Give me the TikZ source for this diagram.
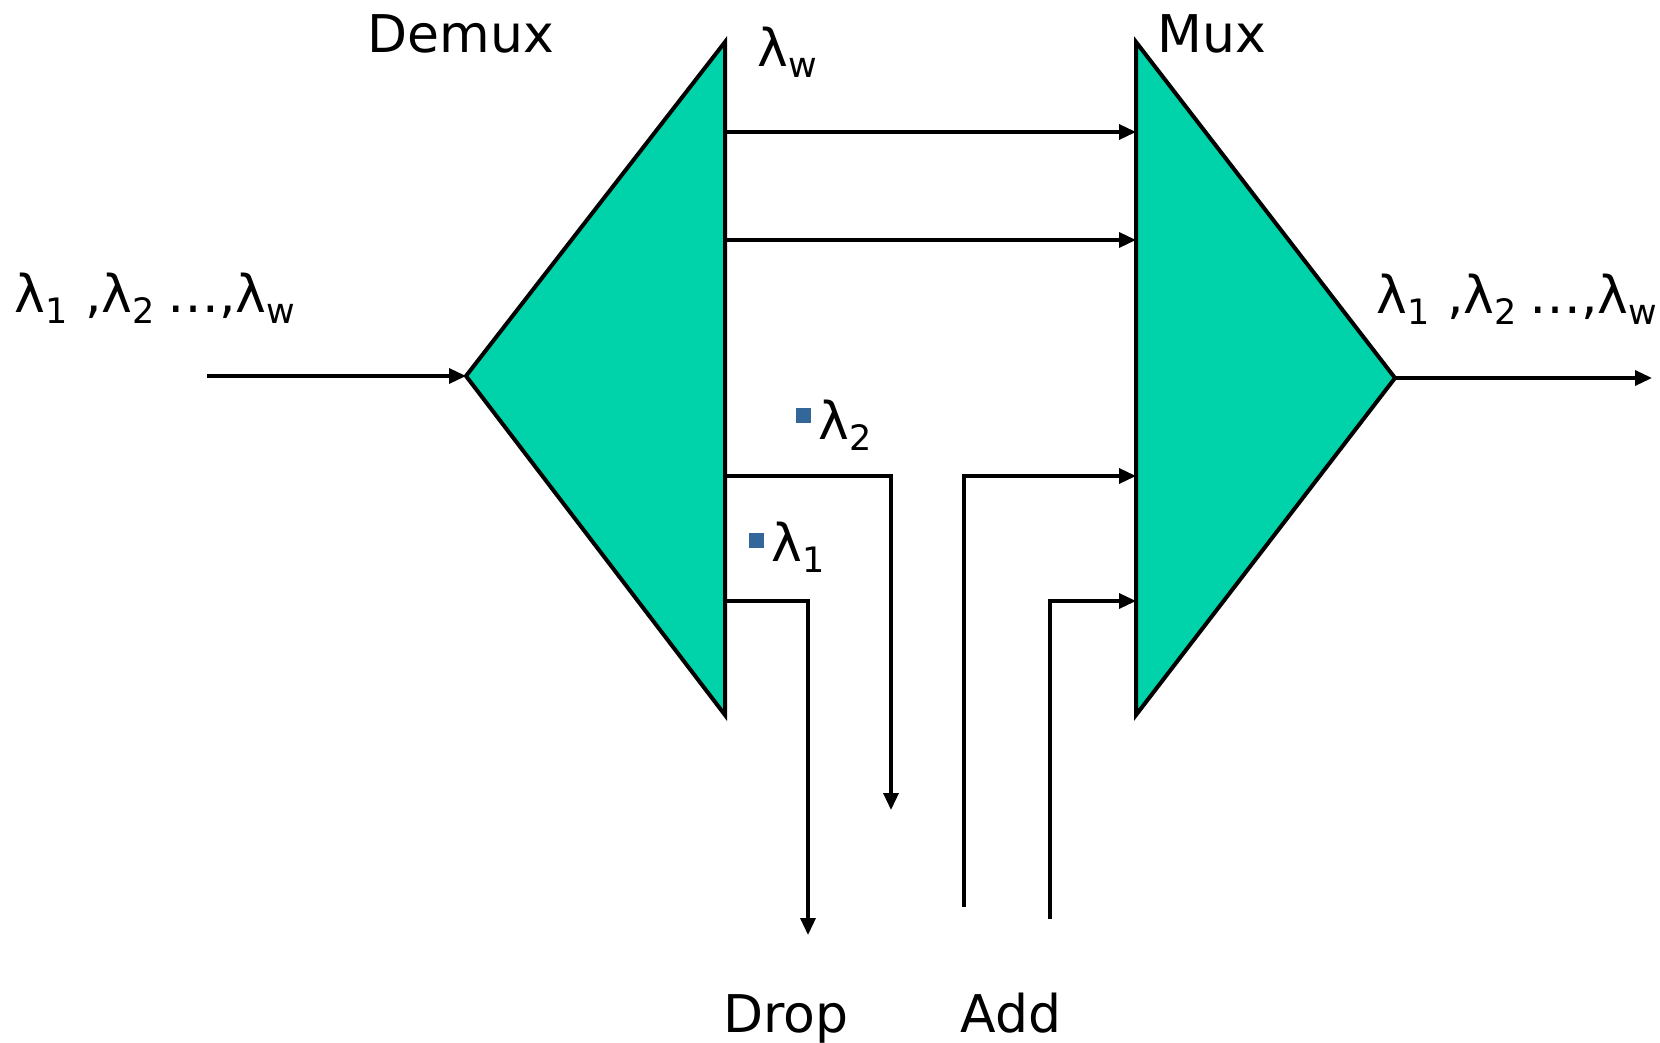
\documentclass[tikz,border=0pt]{standalone}
\usepackage{fontspec}
\setmainfont{DejaVu Sans}
\usetikzlibrary{arrows.meta}
\definecolor{muxgreen}{HTML}{00D2AA}
\definecolor{dotblue}{HTML}{336699}
\newcommand{\lamsub}[1]{λ\raisebox{-5.5pt}{\fontsize{17.5}{17.5}\selectfont #1}}
\begin{document}
\begin{tikzpicture}[x=0.5pt,y=-0.5pt,
  sig/.style={line width=1.7pt,-{Triangle[length=8.5pt,width=7.5pt]}},
  lbl/.style={inner sep=0,anchor=base west,font=\fontsize{26}{26}\selectfont},
  dot/.style={fill=dotblue,inner sep=0,minimum size=7.5pt}]
\useasboundingbox (0,0) rectangle (1660,1043);
\draw[line width=2pt,fill=muxgreen] (466,376) coordinate (dmx tip) -- (725,42) -- (725,715) -- cycle;
\draw[line width=2pt,fill=muxgreen] (1395,378) coordinate (mux tip) -- (1136,42) -- (1136,715) -- cycle;
\coordinate (src) at (207,376);
\coordinate (dst) at (1652,378);
\foreach \n/\y in {1/132,2/240,3/476,4/601}{
  \coordinate (d\n) at (725,\y);
  \coordinate (m\n) at (1136,\y);}
\coordinate (drop2) at (891,810);
\coordinate (drop1) at (808,935);
\coordinate (add2) at (964,907);
\coordinate (add1) at (1050,919);
\draw[sig] (src) -- (dmx tip);
\draw[sig] (mux tip) -- (dst);
\draw[sig] (d1) -- (m1);
\draw[sig] (d2) -- (m2);
\draw[sig] (d3) -| (drop2);
\draw[sig] (d4) -| (drop1);
\draw[sig] (add2) |- (m3);
\draw[sig] (add1) |- (m4);
\node[lbl] (demux) at (367,53) {Demux};
\node[lbl] (mux) at (1157,53) {Mux};
\node[lbl] (lamw) at (757,67) {\lamsub{w}};
\node[lbl] (inlbl) at (14,313) {\lamsub{1}\kern9pt{},\lamsub{2}\kern6pt{}…,\lamsub{w}};
\node[lbl] (outlbl) at (1376,314) {\lamsub{1}\kern9pt{},\lamsub{2}\kern6pt{}…,\lamsub{w}};
\node[dot] (sq2) at (803,415) {};
\node[lbl] (lam2) at (818,439) {\lamsub{2}};
\node[dot] (sq1) at (756,540) {};
\node[lbl] (lam1) at (771,561) {\lamsub{1}};
\node[lbl] (drop) at (723,1032) {Drop};
\node[lbl] (add) at (960,1032) {Add};
\end{tikzpicture}
\end{document}
